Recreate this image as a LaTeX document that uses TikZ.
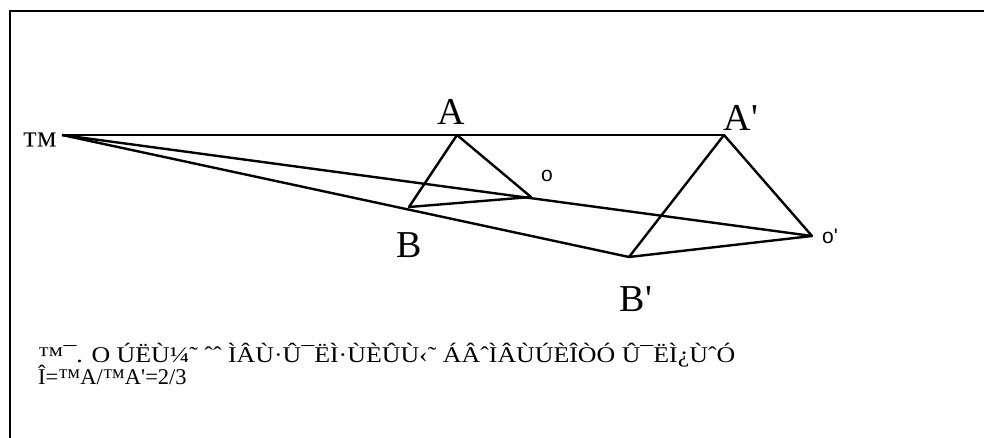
\documentclass[tikz,border=0pt]{standalone}
\usepackage{fontspec}
\setmainfont{Liberation Serif}[Ligatures=TeXOff]
\newfontfamily\labsans{Liberation Sans}[Ligatures=TeXOff]
\begin{document}
\begin{tikzpicture}[x=1pt,y=-1pt,
  edge/.style={line width=2.4pt,line join=round},
  biglab/.style={font=\fontsize{38}{44}\selectfont,inner sep=0pt},
  tmlab/.style={font=\fontsize{36}{40}\selectfont,inner sep=0pt,anchor=base west},
  olab/.style={font=\labsans\fontsize{21}{24}\selectfont,inner sep=0pt},
  txt/.style={font=\fontsize{22.5}{25}\selectfont,inner sep=0pt,anchor=base west}]
\useasboundingbox (0,0) rectangle (984,438);
\draw[line width=2.8pt] (10,440) -- (10,11) -- (986,11);
\coordinate (S) at (62,135);
\coordinate (A) at (457,135);
\coordinate (Ap) at (724,135);
\coordinate (O) at (531,197);
\coordinate (Op) at (812,236);
\coordinate (B) at (409,207);
\coordinate (Bp) at (629,257);
\draw[edge] (S) -- (Ap);
\draw[edge] (S) -- (Op);
\draw[edge] (S) -- (Bp);
\draw[edge] (A) -- (O) -- (B) -- cycle;
\draw[edge] (Ap) -- (Op) -- (Bp) -- cycle;
\node[tmlab] (lS) at (22,157) {™};
\node[biglab] (lA) at (451,112) {A};
\node[biglab] (lAp) at (741,118) {A'};
\node[biglab] (lB) at (409,245) {B};
\node[biglab] (lBp) at (636,299) {B'};
\node[olab] (lO) at (547,176) {o};
\node[olab] (lOp) at (830,236) {o'};
\node[txt] (t1) at (38,362) {\scalebox{1.15}[1]{™¯.  O ÚËÙ¼˜ ˆˆ ÌÂÙ·Û¯ËÌ·ÙÈÛÙ‹˜ ÁÂˆÌÂÙÚÈÎÒÓ Û¯ËÌ¿ÙˆÓ}};
\node[txt] (t2) at (38,384) {Î=™A/™A'=2/3};
\end{tikzpicture}
\end{document}
